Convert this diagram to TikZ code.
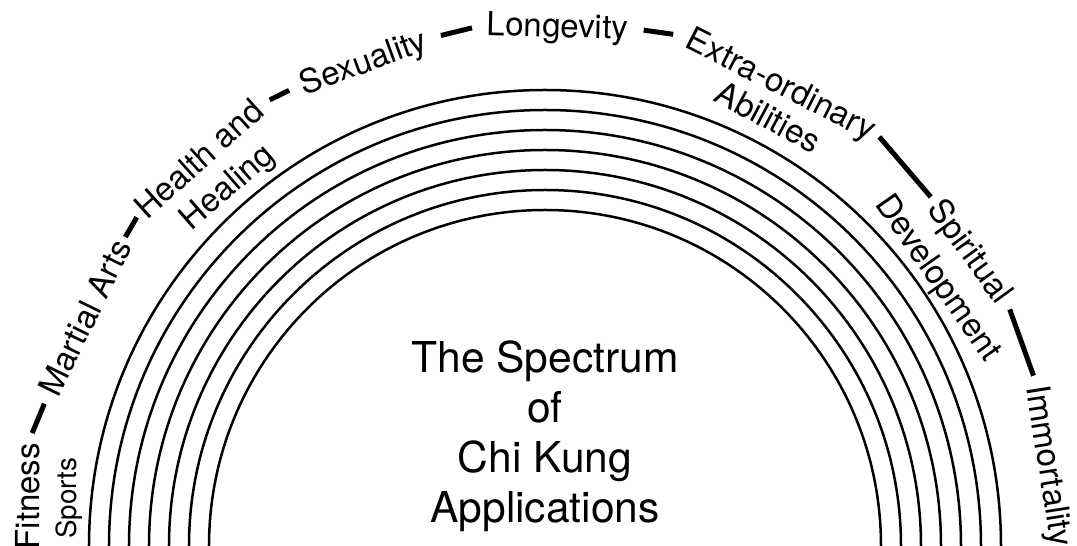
\documentclass[tikz,border=0pt]{standalone}
\usepackage{fontspec}
\setmainfont{TeX Gyre Heros}

\begin{document}
\begin{tikzpicture}[
		band/.style = {line width = .025cm},
		lbl/.style = {font = \fontsize{9.4}{11}\selectfont, inner sep = 0pt, text height = 1.2ex, text depth = 0pt},
		small/.style = {font = \fontsize{7.9}{9}\selectfont, inner sep = 0pt, text height = 1.2ex, text depth = 0pt},
		dashline/.style = {line width = .05cm, shorten <= .1cm, shorten >= .1cm}
	]
		\useasboundingbox (-5.45,0) rectangle (5.32,5.46);
		% the seven bands
		\draw [band] (-4.56,0) arc [start angle = 180, end angle = 0, radius = 4.56];
		\draw [band] (-4.36,0) arc [start angle = 180, end angle = 0, radius = 4.36];
		\draw [band] (-4.16,0) arc [start angle = 180, end angle = 0, radius = 4.16];
		\draw [band] (-3.96,0) arc [start angle = 180, end angle = 0, radius = 3.96];
		\draw [band] (-3.76,0) arc [start angle = 180, end angle = 0, radius = 3.76];
		\draw [band] (-3.56,0) arc [start angle = 180, end angle = 0, radius = 3.56];
		\draw [band] (-3.36,0) arc [start angle = 180, end angle = 0, radius = 3.36];
		% labels round the outside
		\node [lbl, rotate = 90] (fitness) at (174.5:5.19) {Fitness};
		\node [small, rotate = 90] (sports) at (174.3:4.82) {Sports};
		\node [lbl, rotate = 64] (martial) at (153.6:5.13) {Martial Arts};
		\node [lbl, rotate = 42] (health) at (131.8:5.19) {Health and};
		\node [lbl, rotate = 41] (healing) at (131.5:4.80) {Healing};
		\node [lbl, rotate = 20] (sexuality) at (110.6:5.17) {Sexuality};
		\node [lbl, rotate = -1.5] (longevity) at (88.6:5.20) {Longevity};
		\node [lbl, rotate = -27] (extra) at (62.9:5.19) {Extra-ordinary};
		\node [lbl, rotate = -28] (abilities) at (62.5:4.83) {Abilities};
		\node [lbl, rotate = -54] (spiritual) at (34.7:5.18) {Spiritual};
		\node [lbl, rotate = -55] (development) at (34.3:4.77) {Development};
		\node [lbl, rotate = -81] (immortality) at (9.0:5.11) {Immortality};
		% dashes between them
		\draw [dashline] (fitness.east) -- (martial.west);
		\draw [dashline, shorten <= .05cm, shorten >= .05cm] (martial.east) -- (health.west);
		\draw [dashline, shorten <= .12cm, shorten >= .12cm] (health.east) -- (sexuality.west);
		\draw [dashline, shorten <= .15cm, shorten >= .15cm] (sexuality.east) -- (longevity.west);
		\draw [dashline, shorten <= .15cm, shorten >= .15cm] (longevity.east) -- (extra.west);
		\draw [dashline, shorten <= .07cm, shorten >= .07cm] (extra.east) -- (spiritual.west);
		\draw [dashline] (spiritual.east) -- (immortality.west);
		\node [align = center, font = \fontsize{12.1}{14.2}\selectfont] (title) at (0,1.10) {The Spectrum\\of\\Chi Kung\\Applications};
	\end{tikzpicture}
\end{document}
